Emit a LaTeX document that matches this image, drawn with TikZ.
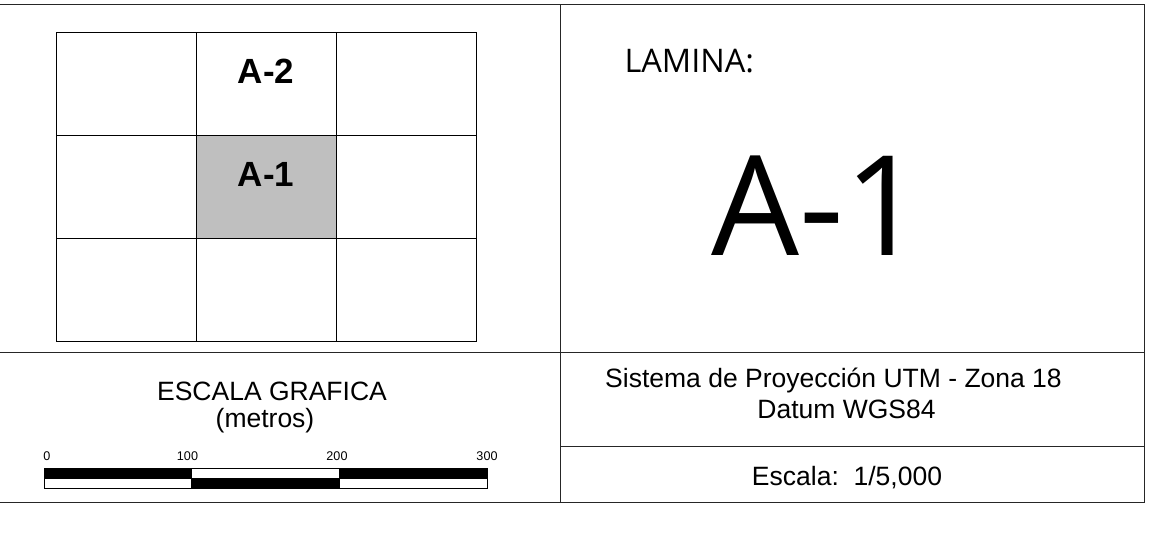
\documentclass[tikz,border=0pt]{standalone}
\usepackage{fontspec}
\setmainfont{Liberation Sans}
\newfontfamily\laminafont{Open Sans}

\begin{document}
\begin{tikzpicture}[x=1pt, y=-1pt, line width=1pt,
		every node/.style={inner sep=0pt},
		txt/.style={anchor=base, font=\fontsize{26.5}{30}\selectfont},
		celltxt/.style={anchor=base, font=\bfseries\fontsize{35}{40}\selectfont}]
				\useasboundingbox (0,0) rectangle (1164,543);
				\draw[black!85] (0,4.3) -- (1144.5,4.3) -- (1144.5,502.7) -- (0,502.7);
				\draw[black!85] (560.5,4.3) -- (560.5,502.7);
				\draw[black!85] (0,352) -- (1144.5,352);
				\draw[black!85] (560.5,446.5) -- (1144.5,446.5);
				\draw[draw=none, fill=black!25] (196,135) rectangle (336,238.3);
				\foreach \x in {56,196,336,476} {
					\draw (\x,32.5) -- (\x,341.7);
				}
				\foreach \y in {32.5,135,238.3,341.7} {
					\draw (56,\y) -- (476,\y);
				}
				\node[celltxt] (a2) at (266,83.3) {A-2};
				\node[celltxt] (a1) at (266,186.5) {A-1};
				\node[anchor=base west, font=\laminafont\fontsize{32.5}{36}\selectfont] (lamina) at (624,72) {LAMINA:};
				\node[anchor=base, font=\laminafont\fontsize{139}{150}\selectfont] (hoja) at (817.5,255) {A-1};
				\node[txt] (escala) at (272,400) {ESCALA GRAFICA};
				\node[txt] (metros) at (265,427) {(metros)};
				\node[txt] (sistema) at (833.5,387) {Sistema de Proyección UTM - Zona 18};
				\node[txt] (datum) at (846.5,418) {Datum WGS84};
				\node[txt] (factor) at (847,485) {Escala:\ \ 1/5,000};
				\foreach \a/\b/\ca/\cb in {44/191.7/black/white, 191.7/339.3/white/black, 339.3/487/black/white} {
					\draw[line width=.8pt, fill=\ca] (\a,468.3) rectangle (\b,478);
					\draw[line width=.8pt, fill=\cb] (\a,478) rectangle (\b,488.3);
				}
				\foreach \x/\t in {47/0, 187.5/100, 337/200, 487/300} {
					\node[anchor=base, font=\fontsize{12.6}{14}\selectfont] (m\t) at (\x,460) {\t};
				}
			\end{tikzpicture}
\end{document}
